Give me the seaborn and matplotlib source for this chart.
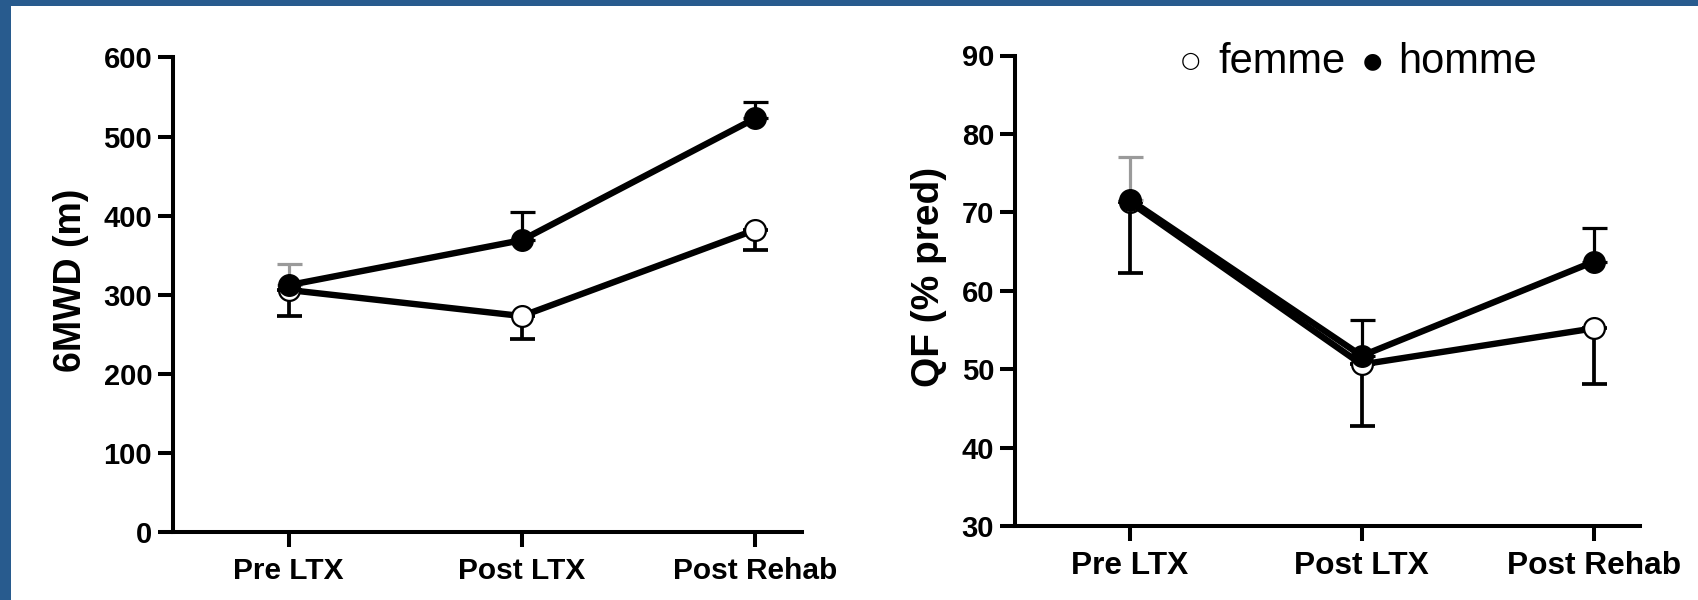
import matplotlib
matplotlib.use("Agg")
import matplotlib.pyplot as plt
import seaborn as sns
import pandas as pd
from matplotlib.patches import Rectangle

# ---- data ----
categories = ["Pre LTX", "Post LTX", "Post Rehab"]
mwd_femme = [306, 273, 382]
mwd_femme_err = [33, 29, 26]      # lower error
mwd_homme = [312, 369, 523]
mwd_homme_err = [27, 35, 20]      # upper error
qf_femme = [71.3, 50.6, 55.2]
qf_femme_err = [9.1, 7.9, 7.1]    # lower error
qf_homme = [71.6, 51.7, 63.7]
qf_homme_err = [5.4, 4.6, 4.3]    # upper error
mwd_ticks = [0, 100, 200, 300, 400, 500, 600]
qf_ticks = [30, 40, 50, 60, 70, 80, 90]
legend_parts = ["\u25cb", "femme", "\u25cf", "homme"]

sns.set_theme(style="ticks")
plt.rcParams["font.family"] = ["Liberation Sans", "DejaVu Sans"]
for k in ["text.color", "axes.labelcolor", "xtick.color", "ytick.color", "axes.edgecolor"]:
    plt.rcParams[k] = "black"

BLUE = "#285B8E"
W, H = 1699, 600
fig = plt.figure(figsize=(W / 100, H / 100), dpi=100, facecolor=BLUE)
fig.patches.append(Rectangle((11 / W, 0), 1 - 11 / W, 1 - 6 / H,
                             transform=fig.transFigure, facecolor="white",
                             edgecolor="none", zorder=-10))

ax1 = fig.add_axes([173 / W, 1 - 532 / H, 629 / W, (532 - 57.4) / H])
ax2 = fig.add_axes([1015 / W, 1 - 526 / H, 625 / W, (526 - 55.5) / H])

pos = list(range(len(categories)))


def draw(ax, femme, femme_err, homme, homme_err, ylim, ticks, ylabel, labx,
         ylab_size, cat_size):
    ax.set_facecolor("none")
    df = pd.DataFrame({
        "x": pos * 2,
        "y": list(femme) + list(homme),
        "sexe": ["femme"] * len(pos) + ["homme"] * len(pos),
    })
    # error bars (one-sided)
    for i in pos:
        ax.errorbar([i], [femme[i]], yerr=[[femme_err[i]], [0]], fmt="none",
                    ecolor="black", elinewidth=2.7, capsize=9, capthick=2.7, zorder=2)
        col = "#9a9a9a" if i == 0 else "black"
        ax.errorbar([i], [homme[i]], yerr=[[0], [homme_err[i]]], fmt="none",
                    ecolor=col, elinewidth=2.3, capsize=9, capthick=2.3, zorder=2)
    sns.lineplot(data=df[df.sexe == "femme"], x="x", y="y", ax=ax, color="black",
                 lw=4.6, marker="o", markersize=15, markerfacecolor="white",
                 markeredgecolor="black", markeredgewidth=1.6, zorder=3, legend=False)
    sns.lineplot(data=df[df.sexe == "homme"], x="x", y="y", ax=ax, color="black",
                 lw=4.6, marker="o", markersize=15.5, markerfacecolor="black",
                 markeredgecolor="black", markeredgewidth=1.0, zorder=4, legend=False)
    ax.set_xlim(-0.495, 2.2)
    ax.set_ylim(*ylim)
    ax.set_yticks(ticks)
    ax.set_xticks(pos)
    ax.set_xticklabels(categories, fontsize=cat_size, fontweight="bold")
    ax.set_yticklabels([str(t) for t in ticks], fontsize=21, fontweight="bold")
    ax.set_xlabel("")
    ax.set_ylabel(ylabel, fontsize=ylab_size, fontweight="bold")
    ax.yaxis.set_label_coords(labx, 0.53)
    for s in ["top", "right"]:
        ax.spines[s].set_visible(False)
    for s in ["left", "bottom"]:
        ax.spines[s].set_linewidth(2.9)
        ax.spines[s].set_color("black")
    ax.tick_params(axis="both", length=11, width=2.9, color="black", direction="out")
    ax.tick_params(axis="y", pad=4)
    ax.tick_params(axis="x", pad=7)


draw(ax1, mwd_femme, mwd_femme_err, mwd_homme, mwd_homme_err, (0, 600),
     mwd_ticks, "6MWD (m)", -0.133, 27, 21.5)
draw(ax2, qf_femme, qf_femme_err, qf_homme, qf_homme_err, (30, 90),
     qf_ticks, "QF (% pred)", -0.109, 28, 22.8)

# legend line: ○ femme ● homme
base_y = 1 - 73 / H
sym_y = 1 - 61 / H
fig.text(1190 / W, sym_y, legend_parts[0], fontsize=16, ha="center", va="center",
         family=["DejaVu Sans"])
fig.text(1218 / W, base_y, legend_parts[1], fontsize=30, ha="left", va="baseline")
fig.text(1372 / W, sym_y, legend_parts[2], fontsize=16, ha="center", va="center",
         family=["DejaVu Sans"])
fig.text(1398 / W, base_y, legend_parts[3], fontsize=30, ha="left", va="baseline")

fig.savefig("out.png", dpi=100, facecolor=BLUE)
